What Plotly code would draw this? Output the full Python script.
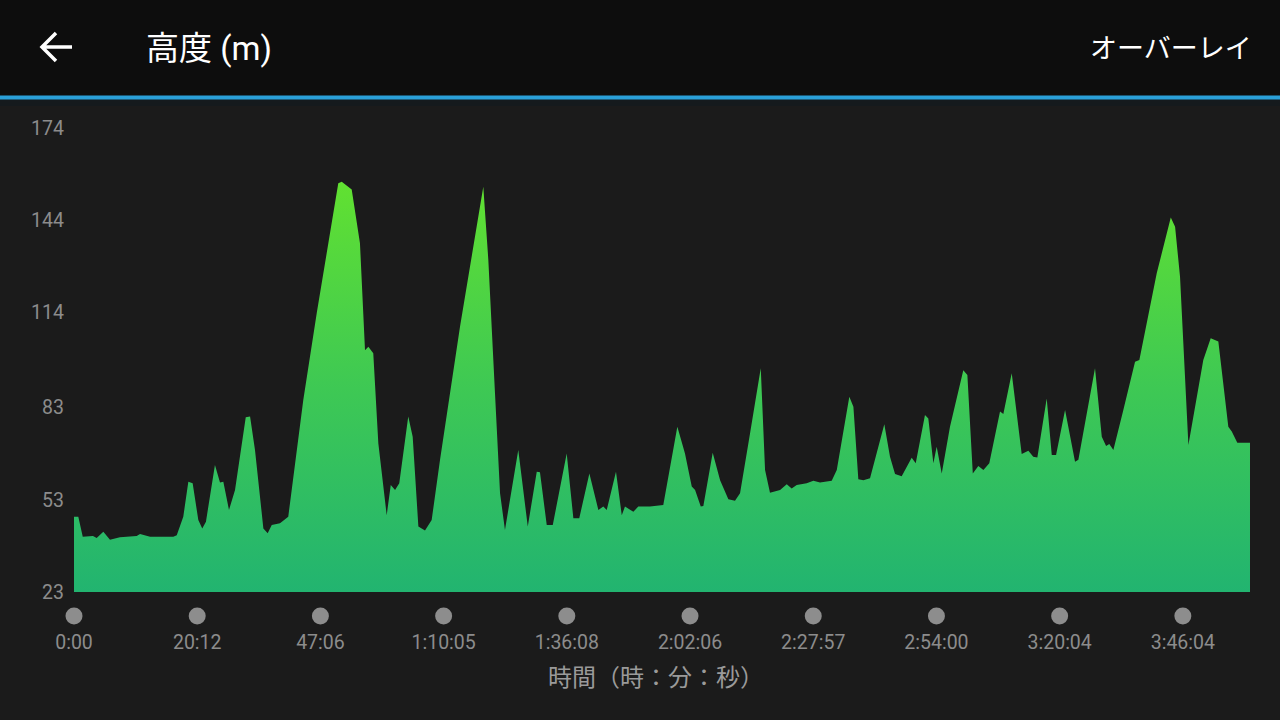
import plotly.graph_objects as go

# 高度データ（横軸はティック間隔を10とした位置）
pos = [0, 0.35, 0.71, 1.54, 1.84, 2.38, 2.92, 3.73, 5.09, 5.36, 6.17, 8.06, 8.34, 8.87,
       9.28, 9.63, 10.09, 10.41, 10.71, 11.44, 11.85, 12.12, 12.58, 13.07, 13.94, 14.29,
       14.69, 15.37, 15.72, 16.05, 16.72, 17.39, 17.67, 18.61, 19.70, 20.64, 21.45, 21.73,
       22.54, 23.21, 23.62, 23.89, 24.29, 24.70, 25.38, 25.71, 26.06, 26.40, 27.13, 27.49,
       27.95, 28.49, 29.03, 29.71, 31.33, 33.22, 33.63, 34.17, 34.58, 34.98, 36.06, 36.83,
       37.56, 37.82, 38.37, 38.86, 39.99, 40.53, 41.01, 41.83, 42.56, 42.96, 43.24, 43.99,
       44.46, 44.72, 45.40, 45.80, 46.75, 47.83, 48.97, 49.59, 50.14, 50.41, 50.87, 51.08,
       51.84, 52.44, 53.11, 53.65, 54.06, 54.87, 55.74, 56.09, 56.49, 57.31, 57.85, 58.25,
       58.66, 59.47, 60.01, 60.55, 61.50, 61.91, 62.93, 63.26, 63.66, 64.07, 64.61, 65.77,
       66.23, 66.64, 67.18, 67.99, 68.32, 69.07, 69.34, 69.75, 70.02, 70.43, 71.10, 72.18,
       72.51, 72.95, 73.40, 73.81, 74.29, 75.16, 75.43, 76.11, 76.92, 77.46, 77.86, 78.19,
       78.95, 79.36, 79.71, 80.44, 81.25, 81.52, 82.87, 83.42, 83.77, 84.03, 84.36, 85.17,
       86.12, 86.47, 87.88, 89.02, 89.37, 89.77, 90.45, 91.66, 92.26, 92.88, 93.69, 93.97,
       94.42, 95.45]
elev = [47.5, 47.5, 41.0, 41.2, 40.6, 42.6, 40.0, 40.8, 41.2, 41.9, 41.0, 41.0, 41.5, 47.5,
        58.9, 58.4, 46.4, 43.7, 45.9, 64.3, 58.6, 58.9, 49.7, 56.2, 79.9, 80.1,
        69.2, 43.7, 42.1, 44.8, 45.4, 47.5, 56.2, 85.5, 113.7, 136.5, 156.0, 156.5,
        154.0, 136.5, 101.7, 102.8, 100.7, 71.4, 48.0, 57.8, 56.2, 58.4, 80.1, 73.5,
        44.3, 43.0, 46.4, 66.0, 109.3, 154.9, 131.0, 87.7, 55.1, 43.2, 69.2, 44.3,
        62.1, 62.0, 44.8, 44.8, 68.1, 47.0, 47.0, 61.6, 49.7, 50.8, 49.7, 62.1,
        48.0, 50.8, 49.1, 50.8, 50.8, 51.3, 76.8, 68.1, 57.3, 56.2, 50.8, 51.0,
        68.3, 59.4, 53.2, 52.7, 55.1, 74.6, 95.8, 62.7, 55.3, 56.2, 58.1, 56.7,
        57.8, 58.4, 59.2, 58.6, 59.2, 62.7, 86.5, 83.3, 59.7, 59.4, 60.0, 77.6,
        67.0, 61.4, 60.7, 66.7, 64.9, 80.6, 79.5, 64.9, 70.3, 61.6, 76.8, 95.2,
        93.6, 61.6, 64.0, 62.7, 64.9, 81.7, 80.9, 94.2, 67.9, 69.0, 67.0, 66.8,
        86.0, 67.6, 67.6, 82.2, 65.4, 66.0, 95.8, 73.5, 70.5, 71.2, 69.2, 82.2,
        97.9, 98.5, 126.7, 144.9, 141.9, 125.6, 70.8, 98.5, 105.6, 104.5, 76.8, 75.2,
        71.6, 71.6]

x_ticks = [0, 10, 20, 30, 40, 50, 60, 70, 80, 90]
x_labels = ["0:00", "20:12", "47:06", "1:10:05", "1:36:08", "2:02:06", "2:27:57",
            "2:54:00", "3:20:04", "3:46:04"]
y_ticks = [23, 53, 83, 114, 144, 174]

W, H = 1280, 720
ML, MR, MT, MB = 74, 30, 128, 40


# ピクセル座標 -> paper座標
def px(x):
    return (x - ML) / (W - ML - MR)


def py(y):
    return (H - MB - y) / (H - MT - MB)


fig = go.Figure()

fig.add_trace(go.Scatter(
    x=pos, y=elev, mode="lines", fill="tozeroy",
    line=dict(width=0, color="#3fc953"),
    fillgradient=dict(type="vertical", start=23, stop=160,
                      colorscale=[[0, "#22b470"], [0.5, "#3fc953"], [1, "#63e22f"]]),
    hoverinfo="skip", xaxis="x", yaxis="y"))

# 目盛りの丸
fig.add_trace(go.Scatter(
    x=x_ticks, y=[0.5] * len(x_ticks), mode="markers",
    marker=dict(size=17, color="#8d8d8d"), cliponaxis=False,
    hoverinfo="skip", xaxis="x2", yaxis="y2"))

tick_font = dict(family="Roboto", size=19.5, color="#8c8c8c")

fig.update_layout(
    width=W, height=H,
    margin=dict(l=ML, r=MR, t=MT, b=MB),
    paper_bgcolor="#1b1b1b", plot_bgcolor="#1b1b1b",
    showlegend=False,
    xaxis=dict(range=[0, 95.45], showgrid=False, zeroline=False, showline=False,
               showticklabels=False, ticks="", anchor="y"),
    yaxis=dict(range=[23, 174], domain=[py(592), 1], tickvals=y_ticks,
               showgrid=False, zeroline=False, showline=False, ticks="",
               tickfont=tick_font, ticklabelstandoff=9),
    xaxis2=dict(range=[0, 95.45], anchor="y2", matches="x", tickvals=x_ticks,
                ticktext=x_labels, showgrid=False, zeroline=False, showline=False,
                ticks="", tickfont=tick_font, ticklabelstandoff=3),
    yaxis2=dict(range=[0, 1], domain=[py(625), py(607)], visible=False),
    shapes=[
        dict(type="rect", xref="paper", yref="paper", x0=px(0), x1=px(W),
             y0=py(96), y1=py(0), fillcolor="#0d0d0d", line=dict(width=0), layer="below"),
        dict(type="rect", xref="paper", yref="paper", x0=px(0), x1=px(W),
             y0=py(106), y1=py(99), fillcolor="#151a1d", line=dict(width=0), layer="below"),
        dict(type="rect", xref="paper", yref="paper", x0=px(0), x1=px(W),
             y0=py(99.5), y1=py(95.5), fillcolor="#2a9fd8", line=dict(width=0)),
        # 戻る矢印
        dict(type="path", xref="paper", yref="paper",
             path="M {0},{1} L {2},{1} M {3},{4} L {0},{1} L {3},{5}".format(
                 px(42), py(47), px(72), px(56), py(33), py(61)),
             line=dict(color="white", width=3.5)),
    ],
    annotations=[
        dict(text="高度 (m)", xref="paper", yref="paper", x=px(144), y=py(48),
             xanchor="left", yanchor="middle", showarrow=False,
             font=dict(family="Roboto, Noto Sans CJK JP", size=33, color="white")),
        dict(text="オーバーレイ", xref="paper", yref="paper", x=px(1254), y=py(47),
             xanchor="right", yanchor="middle", showarrow=False,
             font=dict(family="Noto Sans CJK JP", size=27, color="white")),
        dict(text="時間（時：分：秒）", xref="paper", yref="paper", x=px(656), y=py(675),
             xanchor="center", yanchor="middle", showarrow=False,
             font=dict(family="Noto Sans CJK JP", size=24, color="#9a9a9a")),
    ],
)

fig.write_html("out.html", config={"displayModeBar": False},
               post_script="document.body.style.margin='0';"
                           "document.body.style.background='#1b1b1b';")
